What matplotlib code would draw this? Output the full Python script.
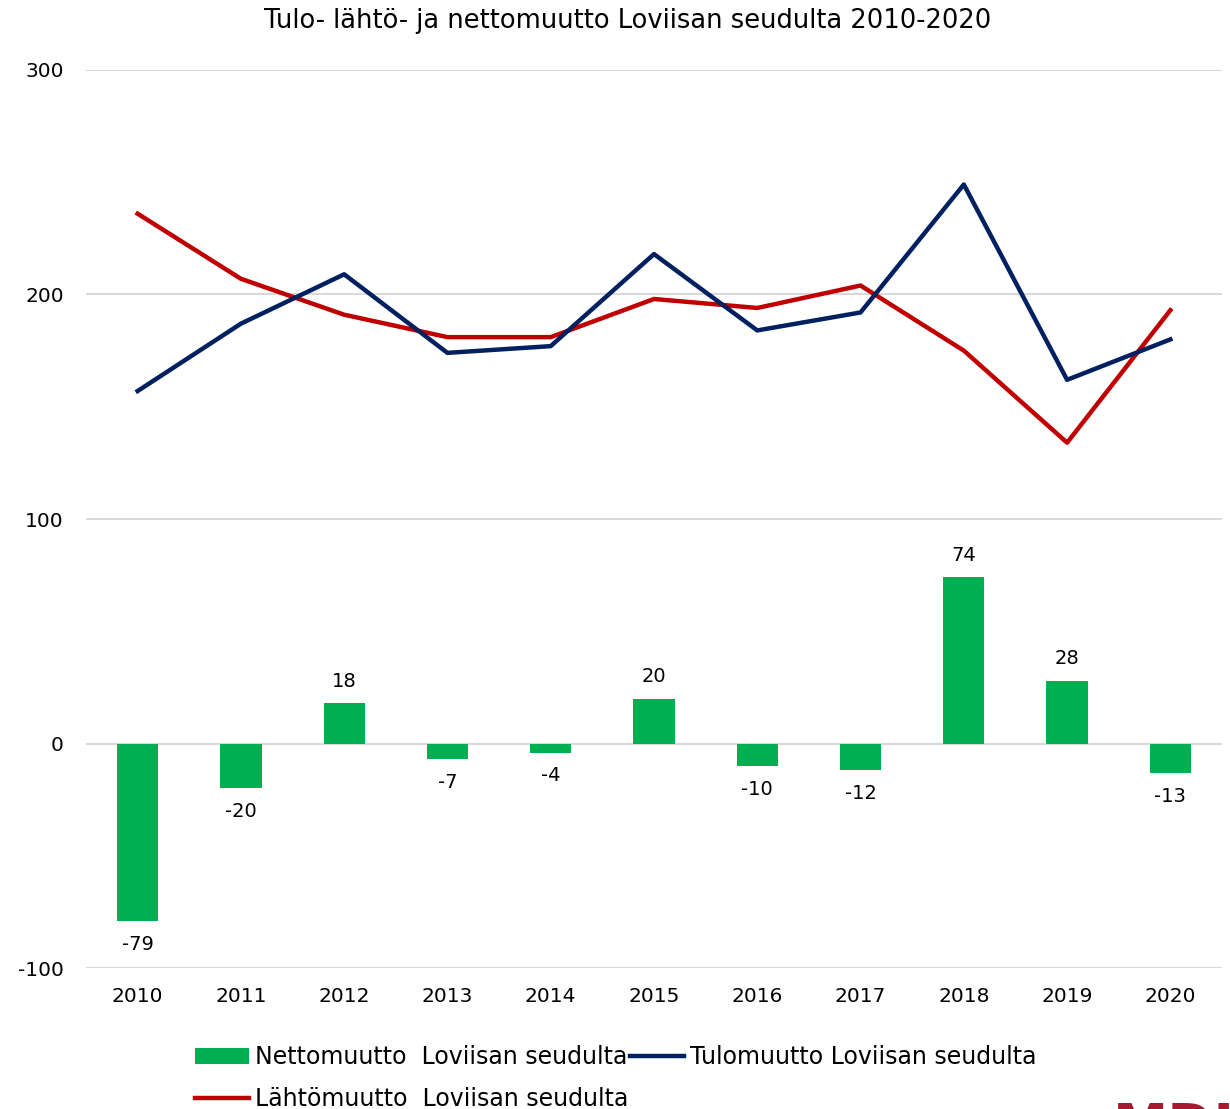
import numpy as np
import matplotlib.pyplot as plt

# data
years = ['2010', '2011', '2012', '2013', '2014', '2015', '2016', '2017', '2018', '2019', '2020']
tulo = [157, 187, 209, 174, 177, 218, 184, 192, 249, 162, 180]
lahto = [236, 207, 191, 181, 181, 198, 194, 204, 175, 134, 193]
netto = [-79, -20, 18, -7, -4, 20, -10, -12, 74, 28, -13]

plt.rcParams['font.family'] = ['DejaVu Sans']
plt.rcParams['axes.unicode_minus'] = False

fig = plt.figure(figsize=(12.3, 11.09), dpi=100)
ax = fig.add_axes([0.0699, 0.1271, 0.9236, 0.8098])

x = np.arange(len(years))
ax.bar(x, netto, width=0.4, color='#00b050', label='Nettomuutto  Loviisan seudulta', zorder=2)
ax.plot(x, lahto, color='#c00000', lw=3.2, label='Lähtömuutto  Loviisan seudulta', zorder=3)
ax.plot(x, tulo, color='#002060', lw=3.2, label='Tulomuutto Loviisan seudulta', zorder=3)

# value labels for the bars
for xi, v in zip(x, netto):
    if v >= 0:
        ax.annotate(str(v), (xi, v), xytext=(0, 9), textcoords='offset points',
                    ha='center', va='bottom', fontsize=14)
    else:
        ax.annotate(str(v), (xi, v), xytext=(0, -10), textcoords='offset points',
                    ha='center', va='top', fontsize=14)

ax.set_xlim(-0.5, 10.5)
ax.set_ylim(-100, 300)
ax.set_yticks([-100, 0, 100, 200, 300])
ax.set_xticks(x)
ax.set_xticklabels(years)
ax.tick_params(axis='both', length=0, labelsize=14.5)
ax.tick_params(axis='y', pad=16)
ax.tick_params(axis='x', pad=14)
ax.grid(axis='y', color='#d9d9d9', lw=1.5, zorder=0)
ax.set_axisbelow(True)
for s in ax.spines.values():
    s.set_visible(False)

fig.text(0.51, 0.981, 'Tulo- lähtö- ja nettomuutto Loviisan seudulta 2010-2020',
         ha='center', va='center', fontsize=18.5)

h, l = ax.get_legend_handles_labels()
order = [h[2], h[0], h[1]]
labs = [l[2], l[0], l[1]]
fig.legend(order, labs, ncol=2, loc='upper left', bbox_to_anchor=(0.151, 0.066),
           frameon=False, fontsize=17, handlelength=2.3, handletextpad=0.25,
           columnspacing=0.05, labelspacing=0.75, borderaxespad=0)

# logo partly cut off at the bottom edge
fig.text(0.905, 0.007, 'MDI', color='#a6192e', fontsize=40, fontweight='bold',
         ha='left', va='top')

fig.savefig('out.png', dpi=100)
